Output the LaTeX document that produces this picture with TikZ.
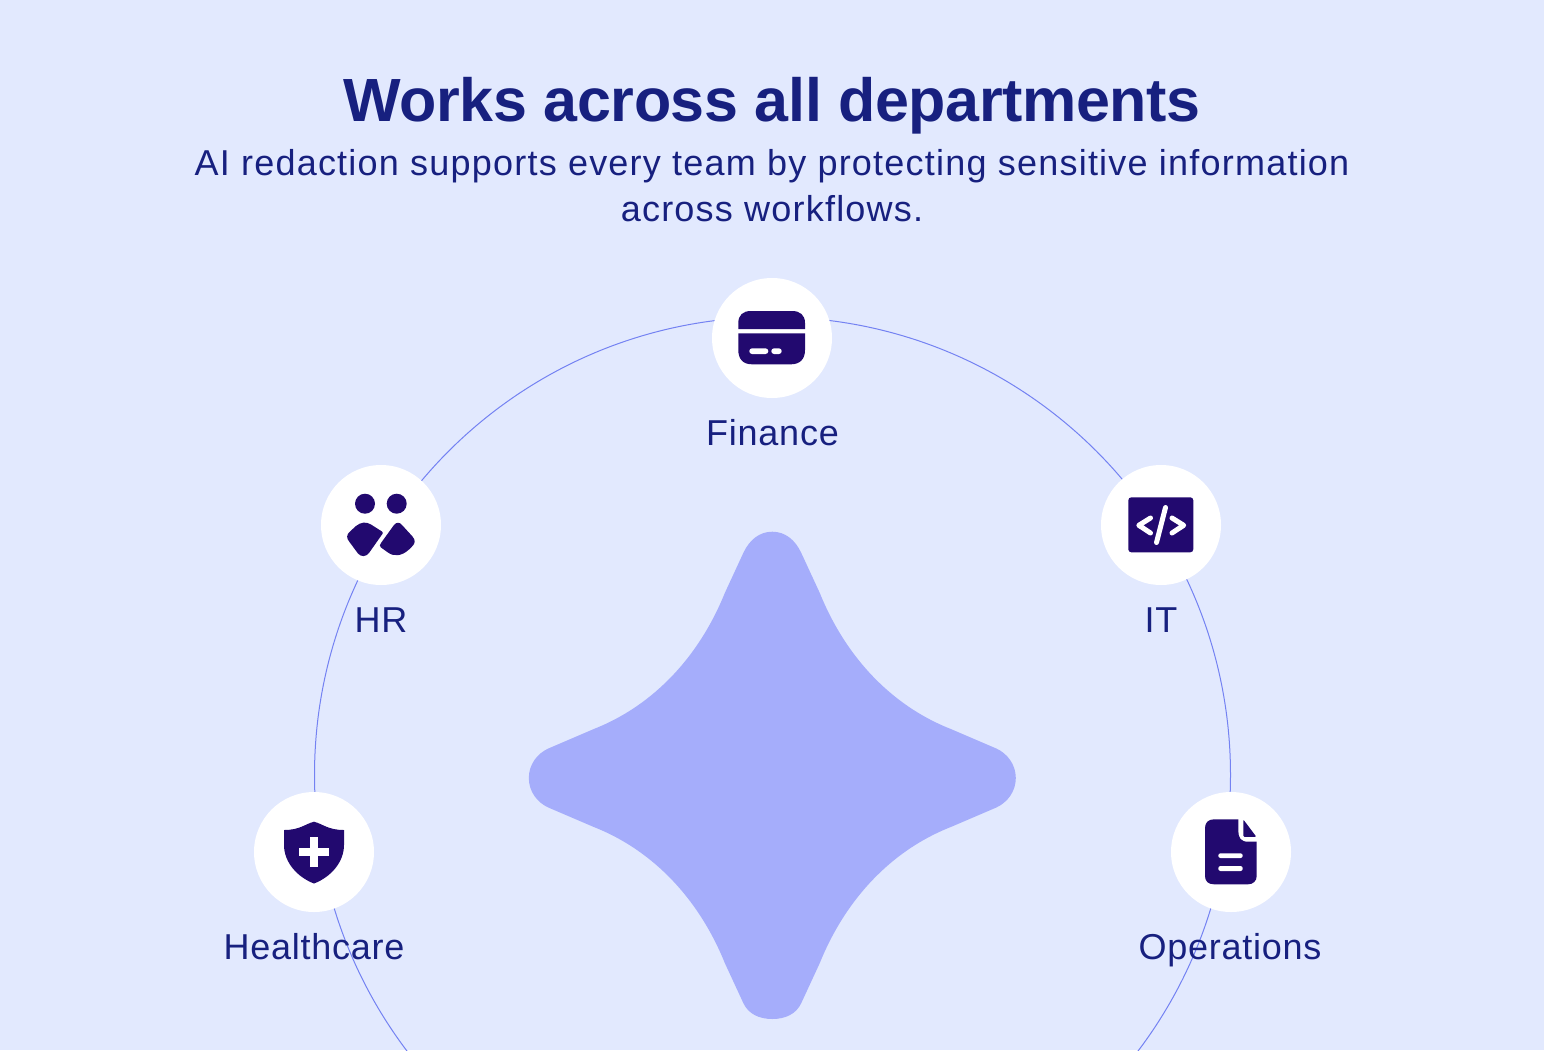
\documentclass[tikz,border=0pt]{standalone}
\usepackage{fontspec}
\setmainfont{Liberation Sans}
\newfontfamily\titlefam[LetterSpace=-0.65]{Liberation Sans}
\newfontfamily\subfam[LetterSpace=3.4]{Liberation Sans}
\newfontfamily\labfam[LetterSpace=2.1]{Liberation Sans}
\definecolor{bgc}{HTML}{E2E9FE}
\definecolor{ink}{HTML}{17207F}
\definecolor{starc}{HTML}{A5ADFB}
\definecolor{iconc}{HTML}{22096F}
\definecolor{ringc}{HTML}{7482F2}
\tikzset{
  hub/.style={circle,fill=white,minimum size=120pt,inner sep=0pt},
  lab/.style={text=ink,anchor=base,inner sep=0pt,font=\labfam\fontsize{36}{42}\selectfont},
  ttl/.style={text=ink,anchor=base,inner sep=0pt,font=\titlefam\fontsize{61}{70}\bfseries\selectfont},
  sub/.style={text=ink,anchor=base,inner sep=0pt,font=\subfam\fontsize{36}{46}\selectfont},
  ic/.style={fill=iconc,draw=none},
  wl/.style={draw=white,line cap=round,line join=round,line width=5pt}
}
\begin{document}
\begin{tikzpicture}[x=1pt,y=-1pt]
\useasboundingbox (0,0) rectangle (1544,1050);
\clip (0,0) rectangle (1544,1050);
\fill[bgc] (0,0) rectangle (1544,1050);
% ring
\draw[ringc,line width=1pt] (772.5,775) circle[radius=458];
% star
\begin{scope}[shift={(772.3,778)}]
\fill[starc] (0,-246.3) .. controls (13,-246.3) and (23,-238) .. (29,-225)
 -- (47.5,-185) .. controls (72.5,-123) and (117.5,-73) .. (178.5,-49)
 -- (224,-29.5) .. controls (235,-24.5) and (243.5,-13.5) .. (243.5,0)
 .. controls (243.5,13.5) and (235,24.5) .. (224,29.5)
 -- (178.5,49) .. controls (117.5,73) and (72.5,123) .. (47.5,185)
 -- (29,225) .. controls (24,236) and (13,241) .. (0,241)
 .. controls (-13,241) and (-24,236) .. (-29,225)
 -- (-47.5,185) .. controls (-72.5,123) and (-117.5,73) .. (-178.5,49)
 -- (-224,29.5) .. controls (-235,24.5) and (-243.5,13.5) .. (-243.5,0)
 .. controls (-243.5,-13.5) and (-235,-24.5) .. (-224,-29.5)
 -- (-178.5,-49) .. controls (-117.5,-73) and (-72.5,-123) .. (-47.5,-185)
 -- (-29,-225) .. controls (-23,-238) and (-13,-246.3) .. (0,-246.3) -- cycle;
\end{scope}
% text
\node[ttl] (title) at (772,121) {Works across all departments};
\node[sub] (sub1) at (772,175) {AI redaction supports every team by protecting sensitive information};
\node[sub] (sub2) at (772,221) {across workflows.};
% hubs
\node[hub] (finance) at (772,338) {};
\node[hub] (hr) at (381,525) {};
\node[hub] (it) at (1161,525) {};
\node[hub] (health) at (314,852) {};
\node[hub] (ops) at (1231,852) {};
\node[lab] (lfinance) at (772.5,445) {Finance};
\node[lab] (lhr) at (381,632) {HR};
\node[lab] (lit) at (1161,632) {IT};
\node[lab] (lhealth) at (314,959) {Healthcare};
\node[lab] (lops) at (1230,959) {Operations};
% card icon
\fill[ic] (738.3,329) -- (738.3,323) .. controls (738.3,315) and (743,311) .. (751,311)
 -- (792,311) .. controls (800,311) and (805,315) .. (805,323) -- (805,329) -- cycle;
\fill[ic] (738.3,333.3) -- (805,333.3) -- (805,350) .. controls (805,359) and (800,364.3) .. (791,364.3)
 -- (752,364.3) .. controls (743,364.3) and (738.3,359) .. (738.3,350) -- cycle;
\fill[white,rounded corners=2.8pt] (749.3,348.3) rectangle (768.3,354);
\fill[white,rounded corners=2.8pt] (771.3,348.3) rectangle (781.7,354);
% HR icon
\fill[ic] (365,503.7) circle[radius=10];
\fill[ic] (396.7,503.7) circle[radius=10];
\fill[ic] (382,531.5) .. controls (383,532.5) and (383,533.5) .. (382,534.5)
 -- (369,553) .. controls (366,557) and (361,557) .. (358,553.5)
 -- (349.5,542) .. controls (346,538) and (346.5,534.5) .. (350,531.5)
 -- (356,526) .. controls (361,522) and (366,521.5) .. (371,524.5) -- cycle;
\fill[ic] (394,525) .. controls (396.5,522) and (399.5,522) .. (402,525)
 -- (412.5,536.5) .. controls (415.5,540) and (415.5,543.5) .. (412,546.5)
 -- (409,549.5) .. controls (402,556) and (394,557) .. (388,552.5)
 -- (381,547.5) .. controls (379.5,546) and (379.5,544.5) .. (381,543) -- cycle;
% IT icon
\fill[ic,rounded corners=3pt] (1128.3,497.3) rectangle (1193.3,552.3);
\draw[wl] (1150.5,518) -- (1138.8,525.3) -- (1150.5,533);
\draw[wl] (1172,518) -- (1183.7,525.3) -- (1172,533);
\draw[wl] (1165.5,507.5) -- (1156.5,542.5);
% shield icon
\fill[ic] (314,821.7) .. controls (305,824) and (300,830) .. (284,830)
 -- (284,845) .. controls (284,862) and (297,877) .. (314,883.5)
 .. controls (331,877) and (344,862) .. (344,845) -- (344,830)
 .. controls (328,830) and (323,824) .. (314,821.7) -- cycle;
\fill[white] (299,847.7) rectangle (329,855.7);
\fill[white] (309.7,836.7) rectangle (318.3,867);
% doc icon
\fill[ic] (1238.3,819.3) -- (1238.3,831) .. controls (1238.3,838) and (1241,841.7) .. (1248,841.7)
 -- (1256.7,841.7) -- (1256.7,876) .. controls (1256.7,881) and (1253,884.3) .. (1248,884.3)
 -- (1214,884.3) .. controls (1208,884.3) and (1205,881) .. (1205,876)
 -- (1205,828) .. controls (1205,823) and (1208,819.3) .. (1214,819.3) -- cycle;
\fill[ic,rounded corners=1pt] (1243.3,819.5) -- (1256.3,836.8) -- (1243.3,836.8) -- cycle;
\fill[white,rounded corners=2.2pt] (1218.3,853.3) rectangle (1242.7,858);
\fill[white,rounded corners=2.2pt] (1218.3,866) rectangle (1242.7,871);
\end{tikzpicture}
\end{document}
